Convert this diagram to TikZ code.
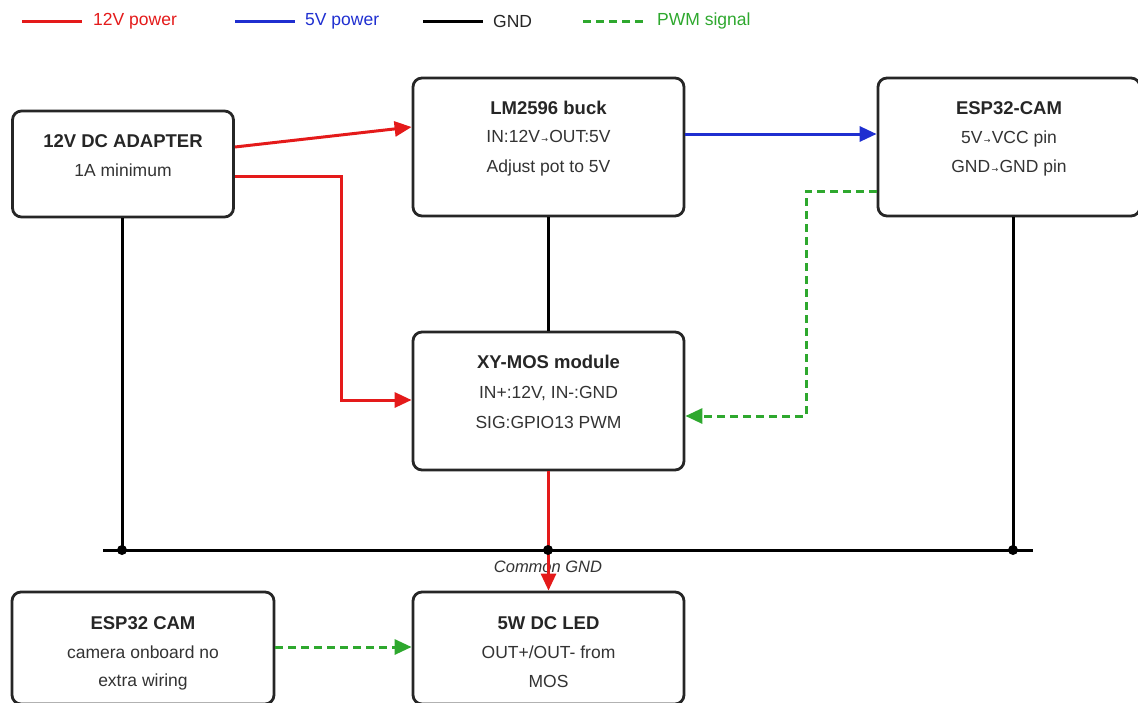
\documentclass[tikz,border=0pt]{standalone}
\usepackage{fontspec}
\setmainfont{Liberation Sans}
\newfontfamily\arrfont{DejaVu Sans}
\usetikzlibrary{arrows.meta}
\definecolor{cred}{HTML}{E41A1A}
\definecolor{cblue}{HTML}{1F2FD0}
\definecolor{cgreen}{HTML}{2EA82E}
\definecolor{ctext}{HTML}{333333}
\newcommand{\rar}{{\arrfont\footnotesize\,→\,}}
\tikzset{
  box/.style={draw=black!85, line width=2.8pt, rounded corners=9pt, fill=white, inner sep=0pt},
  ttl/.style={font=\fontsize{18.5}{22}\selectfont\bfseries, text=black!85, inner sep=0pt, anchor=base},
  txt/.style={font=\fontsize{17.5}{21}\selectfont, text=ctext, inner sep=0pt, anchor=base},
  pw12/.style={draw=cred, line width=3pt},
  pw5/.style={draw=cblue, line width=3pt},
  gnd/.style={draw=black, line width=3pt},
  pwm/.style={draw=cgreen, line width=3pt, dash pattern=on 8pt off 5pt},
  tip/.style={-{Triangle[length=17pt,width=15pt]}},
  leg/.style={font=\fontsize{17.5}{21}\selectfont, inner sep=0pt, anchor=west},
  dotn/.style={circle, fill=black, inner sep=0pt, minimum size=10pt}
}
\begin{document}
\begin{tikzpicture}[x=1pt,y=-1pt]
\useasboundingbox (0,0) rectangle (1138,702);
% legend
\coordinate (l1a) at (22,21); \coordinate (l1b) at (82,21);
\draw[pw12] (l1a) -- (l1b);
\node[leg, text=cred] (l1t) at (93,21) {12V power};
\coordinate (l2a) at (235,21); \coordinate (l2b) at (295,21);
\draw[pw5] (l2a) -- (l2b);
\node[leg, text=cblue] (l2t) at (305,21) {5V power};
\coordinate (l3a) at (423,21); \coordinate (l3b) at (483,21);
\draw[gnd] (l3a) -- (l3b);
\node[leg, text=black!85] (l3t) at (493,21) {GND};
\coordinate (l4a) at (583,21); \coordinate (l4b) at (645,21);
\draw[pwm] (l4a) -- (l4b);
\node[leg, text=cgreen] (l4t) at (657,21) {PWM signal};

% boxes
\node[box, minimum width=221pt, minimum height=106pt] (ad) at (123,164) {};
\node[ttl] (adT) at (123,147) {12V DC ADAPTER};
\node[txt] (adL) at (123,176) {1A minimum};

\node[box, minimum width=271pt, minimum height=138pt] (lm) at (548.5,147) {};
\node[ttl] (lmT) at (548.5,114) {LM2596 buck};
\node[txt] (lmL1) at (548.5,142) {IN:12V\rar OUT:5V};
\node[txt] (lmL2) at (548.5,172) {Adjust pot to 5V};

\node[box, minimum width=262pt, minimum height=138pt] (esp) at (1009,147) {};
\node[ttl] (espT) at (1009,114) {ESP32-CAM};
\node[txt] (espL1) at (1009,143) {5V\rar VCC pin};
\node[txt] (espL2) at (1009,172) {GND\rar GND pin};

\node[box, minimum width=271pt, minimum height=138pt] (mos) at (548.5,401) {};
\node[ttl] (mosT) at (548.5,368) {XY-MOS module};
\node[txt] (mosL1) at (548.5,398) {IN+:12V, IN-:GND};
\node[txt] (mosL2) at (548.5,428) {SIG:GPIO13 PWM};

\node[box, minimum width=262pt, minimum height=112pt] (cam) at (143,648) {};
\node[ttl] (camT) at (143,629) {ESP32 CAM};
\node[txt] (camL1) at (143,658) {camera onboard no};
\node[txt] (camL2) at (143,686) {extra wiring};

\node[box, minimum width=271pt, minimum height=112pt] (led) at (548.5,648) {};
\node[ttl] (ledT) at (548.5,629) {5W DC LED};
\node[txt] (ledL1) at (548.5,658) {OUT+/OUT- from};
\node[txt] (ledL2) at (548.5,687) {MOS};

% ground bus
\coordinate (busL) at (103,550);
\coordinate (busR) at (1033,550);
\node[dotn] (d1) at (122,550) {};
\node[dotn] (d3) at (1013,550) {};
\draw[gnd] (busL) -- (busR);
\draw[gnd] (ad.south -| d1) -- (d1.center);
\draw[gnd] (esp.south -| d3) -- (d3.center);
\draw[gnd] (lm.south) -- (mos.north);
\node[font=\fontsize{16.5}{19}\selectfont\itshape, text=ctext, inner sep=0pt] (cg) at (548,567) {Common GND};

% 12V power
\coordinate (a1) at (ad.east |- 0,147);
\coordinate (a2) at (ad.east |- 0,176);
\coordinate (r1) at (341,176);
\draw[pw12, tip] (a1) -- (lm.west |- 0,127);
\draw[pw12, tip] (a2) -- (r1) |- (mos.west |- 0,400);
\draw[pw12, tip] (mos.south) -- (led.north);

% 5V
\draw[pw5, tip] (lm.east |- 0,134) -- (esp.west |- 0,134);

% PWM
\coordinate (g1) at (806,191);
\draw[pwm, tip] (esp.west |- g1) -- (g1) |- (mos.east |- 0,416);
\draw[pwm, tip] (cam.east |- 0,647) -- (led.west |- 0,647);
\node[dotn] (d2) at (548,550) {};
\end{tikzpicture}
\end{document}
